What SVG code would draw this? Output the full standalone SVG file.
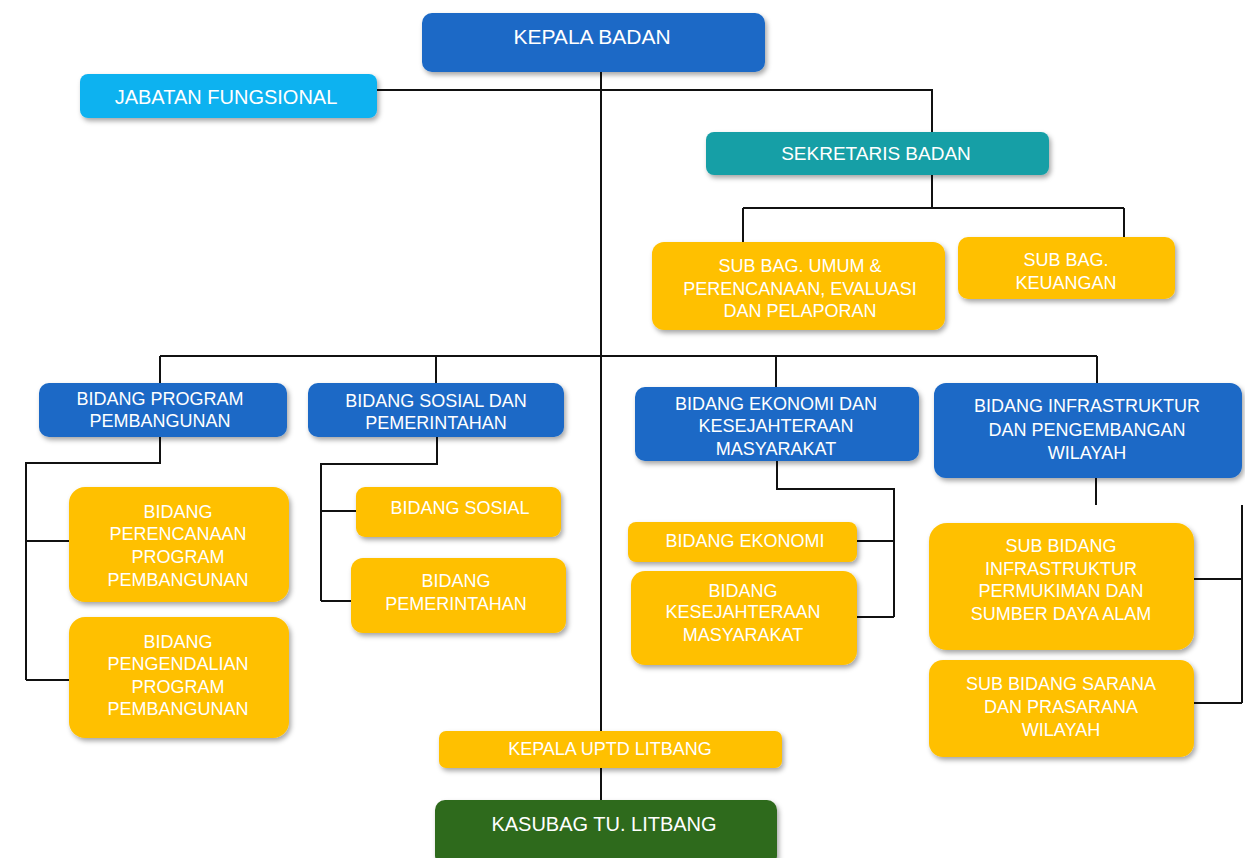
<svg xmlns="http://www.w3.org/2000/svg" width="1245" height="858" viewBox="0 0 1245 858">
<defs>
<filter id="sh" x="-10%" y="-20%" width="125%" height="150%">
<feDropShadow dx="2" dy="3" stdDeviation="2.5" flood-color="#000" flood-opacity="0.35"/>
</filter>
<style>
.blue{fill:#1B69C6;filter:url(#sh)}
.lblue{fill:#0DB2F0;filter:url(#sh)}
.teal{fill:#169FA6;filter:url(#sh)}
.yel{fill:#FFC000;filter:url(#sh)}
.grn{fill:#2F6A1F;filter:url(#sh)}
text{font-family:"Liberation Sans",Arial,sans-serif;fill:#fff;text-anchor:middle;font-size:18px}
.ln{fill:none;stroke:#111;stroke-width:2}
</style>
</defs>
<rect width="1245" height="858" fill="#fff"/>
<g id="connectors">
<path class="ln" d="M601 72 V731 M601 768 V800"/>
<path class="ln" d="M377 90 H932 V132"/>
<path class="ln" d="M932 175 V208 M743 208 H1124 M743 208 V242 M1124 208 V237"/>
<path class="ln" d="M160 356 H1097 M160 356 V383 M436 356 V383 M776 356 V387 M1097 356 V383"/>
<path class="ln" d="M160 437 V463 H26 V680 M26 541 H69 M26 680 H69"/>
<path class="ln" d="M437 437 V464 H321 V601 M321 511 H356 M321 601 H351"/>
<path class="ln" d="M777 461 V489 H894 V617 M857 541 H894 M857 617 H894"/>
<path class="ln" d="M1096 478 V505 M1242 505 V703 M1194 579 H1242 M1194 703 H1242"/>
</g>
<g id="kepala-badan"><rect class="blue" x="422" y="13" width="343" height="59" rx="10"/><text x="592" y="44" style="font-size:21px">KEPALA BADAN</text></g>
<g id="jabatan-fungsional"><rect class="lblue" x="80" y="74" width="297" height="44" rx="8"/><text x="226" y="104" style="font-size:20px">JABATAN FUNGSIONAL</text></g>
<g id="sekretaris-badan"><rect class="teal" x="706" y="132" width="343" height="43" rx="8"/><text x="876" y="160" style="font-size:19px">SEKRETARIS BADAN</text></g>
<g id="subbag-umum"><rect class="yel" x="652" y="242" width="293" height="88" rx="12"/>
<text x="800" y="272">SUB BAG. UMUM &amp;</text><text x="800" y="295">PERENCANAAN, EVALUASI</text><text x="800" y="317">DAN PELAPORAN</text></g>
<g id="subbag-keuangan"><rect class="yel" x="958" y="237" width="217" height="62" rx="10"/>
<text x="1066" y="266">SUB BAG.</text><text x="1066" y="289">KEUANGAN</text></g>
<g id="bidang-program"><rect class="blue" x="39" y="383" width="248" height="54" rx="10"/>
<text x="160" y="405">BIDANG PROGRAM</text><text x="160" y="427">PEMBANGUNAN</text></g>
<g id="bidang-sosial-pemerintahan"><rect class="blue" x="308" y="383" width="256" height="54" rx="10"/>
<text x="436" y="407">BIDANG SOSIAL DAN</text><text x="436" y="429">PEMERINTAHAN</text></g>
<g id="bidang-ekonomi-kesejahteraan"><rect class="blue" x="635" y="387" width="284" height="74" rx="10"/>
<text x="776" y="410">BIDANG EKONOMI DAN</text><text x="776" y="432">KESEJAHTERAAN</text><text x="776" y="455">MASYARAKAT</text></g>
<g id="bidang-infrastruktur"><rect class="blue" x="934" y="383" width="308" height="95" rx="12"/>
<text x="1087" y="412">BIDANG INFRASTRUKTUR</text><text x="1087" y="436">DAN PENGEMBANGAN</text><text x="1087" y="459">WILAYAH</text></g>
<g id="bidang-perencanaan"><rect class="yel" x="69" y="487" width="220" height="115" rx="16"/>
<text x="178" y="518">BIDANG</text><text x="178" y="540">PERENCANAAN</text><text x="178" y="563">PROGRAM</text><text x="178" y="586">PEMBANGUNAN</text></g>
<g id="bidang-pengendalian"><rect class="yel" x="69" y="617" width="220" height="121" rx="16"/>
<text x="178" y="648">BIDANG</text><text x="178" y="670">PENGENDALIAN</text><text x="178" y="693">PROGRAM</text><text x="178" y="715">PEMBANGUNAN</text></g>
<g id="bidang-sosial"><rect class="yel" x="356" y="487" width="205" height="50" rx="9"/><text x="460" y="514">BIDANG SOSIAL</text></g>
<g id="bidang-pemerintahan"><rect class="yel" x="351" y="558" width="215" height="75" rx="12"/>
<text x="456" y="587">BIDANG</text><text x="456" y="610">PEMERINTAHAN</text></g>
<g id="bidang-ekonomi"><rect class="yel" x="628" y="522" width="229" height="40" rx="8"/><text x="745" y="547">BIDANG EKONOMI</text></g>
<g id="bidang-kesejahteraan"><rect class="yel" x="631" y="571" width="226" height="94" rx="14"/>
<text x="743" y="597">BIDANG</text><text x="743" y="618">KESEJAHTERAAN</text><text x="743" y="641">MASYARAKAT</text></g>
<g id="sub-bidang-infrastruktur"><rect class="yel" x="929" y="523" width="265" height="127" rx="18"/>
<text x="1061" y="552">SUB BIDANG</text><text x="1061" y="575">INFRASTRUKTUR</text><text x="1061" y="597">PERMUKIMAN DAN</text><text x="1061" y="620">SUMBER DAYA ALAM</text></g>
<g id="sub-bidang-sarana"><rect class="yel" x="929" y="660" width="265" height="97" rx="14"/>
<text x="1061" y="690">SUB BIDANG SARANA</text><text x="1061" y="713">DAN PRASARANA</text><text x="1061" y="736">WILAYAH</text></g>
<g id="kepala-uptd"><rect class="yel" x="439" y="731" width="343" height="37" rx="7"/><text x="610" y="755">KEPALA UPTD LITBANG</text></g>
<g id="kasubag-tu"><rect class="grn" x="435" y="800" width="342" height="66" rx="10"/><text x="604" y="831" style="font-size:20px">KASUBAG TU. LITBANG</text></g>
</svg>
